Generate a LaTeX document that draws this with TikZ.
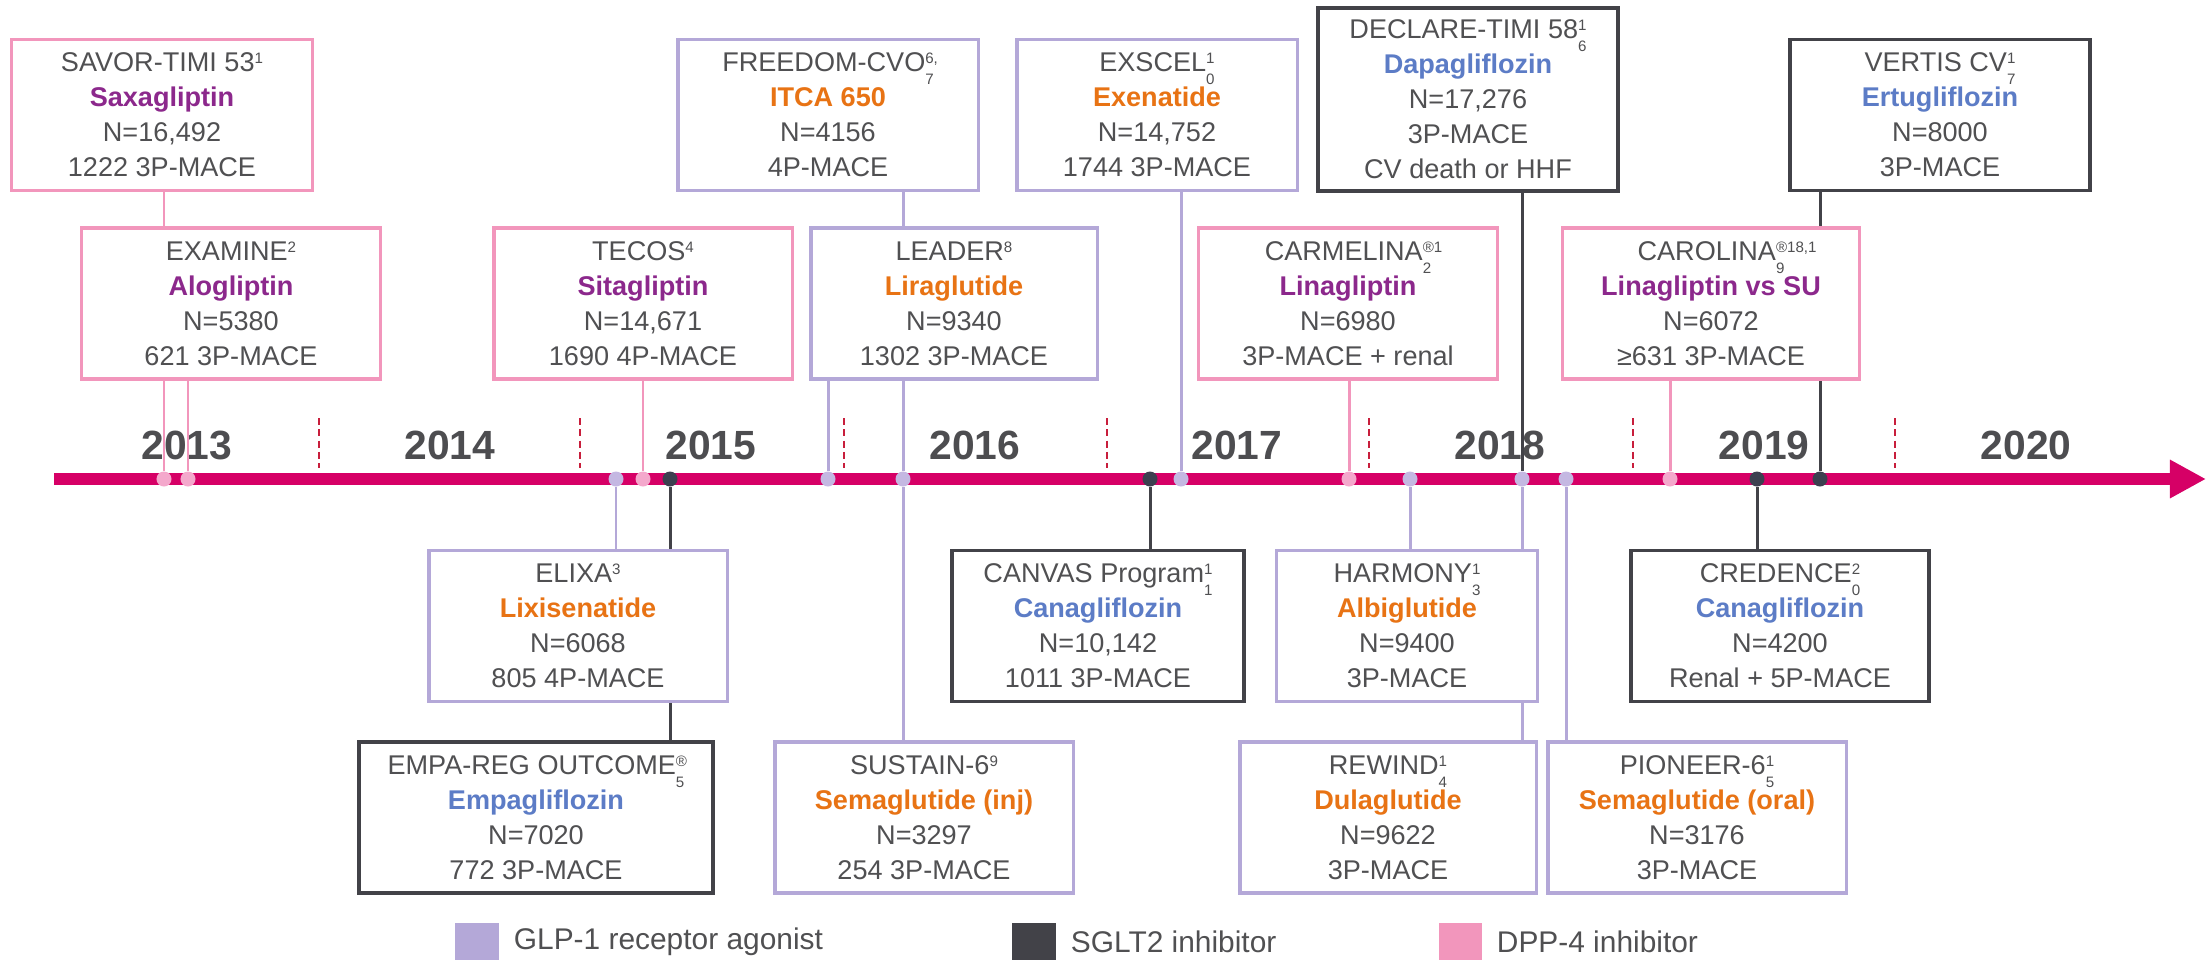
\documentclass[tikz,border=0pt]{standalone}
\usepackage{fontspec}
\setmainfont{Liberation Sans}
\usetikzlibrary{arrows.meta}
\usetikzlibrary{positioning}

% class colours: DPP-4, GLP-1, SGLT2
\definecolor{dppline}{RGB}{242,150,188}
\definecolor{glpline}{RGB}{180,168,216}
\definecolor{sgltline}{RGB}{66,66,72}
\definecolor{dppdot}{RGB}{244,168,204}
\definecolor{glpdot}{RGB}{196,184,226}
\definecolor{sgltdot}{RGB}{60,64,80}
\definecolor{dppdrug}{RGB}{140,40,140}
\definecolor{glpdrug}{RGB}{232,115,20}
\definecolor{sgltdrug}{RGB}{92,124,198}
\definecolor{txtgray}{RGB}{80,80,82}
\definecolor{yeargray}{RGB}{77,77,80}
\definecolor{timeline}{RGB}{214,0,102}
\definecolor{tickred}{RGB}{200,30,60}

\pgfdeclarelayer{back}
\pgfsetlayers{back,main}

\newcommand{\boxfont}{\fontsize{7.7}{9.96}\selectfont}
\newcommand{\reffont}{\fontsize{4.3}{5}\selectfont}
\newcommand{\rf}[1]{\raisebox{2.3pt}{\reffont #1}}
\newcommand{\rff}[2]{\rlap{\raisebox{2.3pt}{\reffont #1}}\raisebox{-3.7pt}{\reffont #2}}
\newcommand{\dppname}[1]{\textcolor{dppdrug}{\textbf{#1}}}
\newcommand{\glpname}[1]{\textcolor{glpdrug}{\textbf{#1}}}
\newcommand{\sgltname}[1]{\textcolor{sgltdrug}{\textbf{#1}}}

\tikzset{
  trial/.style={draw, fill=white, align=center, inner sep=0pt, minimum height=1.51cm, text=txtgray, font=\boxfont},
  dppbox/.style={trial, draw=dppline, line width=0.9pt},
  glpbox/.style={trial, draw=glpline, line width=0.9pt},
  sgltbox/.style={trial, draw=sgltline, line width=1.1pt},
  dot/.style={circle, inner sep=0pt, minimum size=0.15cm},
  dppcon/.style={draw=dppline, line width=0.85pt},
  glpcon/.style={draw=glpline, line width=0.85pt},
  sgltcon/.style={draw=sgltline, line width=0.85pt},
  year/.style={text=yeargray, font=\fontsize{11.6}{12}\selectfont\bfseries},
  halfyear/.style={draw=tickred, line width=0.6pt, dash pattern=on 2pt off 1.2pt},
  swatch/.style={inner sep=0pt, minimum width=0.43cm, minimum height=0.37cm},
  keytext/.style={inner sep=0pt, anchor=west, text=txtgray, font=\fontsize{8.5}{10}\selectfont}
}

\begin{document}
\begin{tikzpicture}[x=0.01cm, y=-0.01cm]
\useasboundingbox (0,0) rectangle (2211,960);

% trials above the time axis
\node[dppbox, minimum width=3cm] (savor) at (162,115) {SAVOR-TIMI 53\rf{1}\\\dppname{Saxagliptin}\\N=16,492\\1222 3P-MACE};
\node[glpbox, minimum width=3cm] (freedom) at (828,115) {FREEDOM-CVO\rff{6,}{7}\\\glpname{ITCA 650}\\N=4156\\4P-MACE};
\node[glpbox, minimum width=2.8cm] (exscel) at (1157,115) {EXSCEL\rff{1}{0}\\\glpname{Exenatide}\\N=14,752\\1744 3P-MACE};
\node[sgltbox, minimum width=3cm, minimum height=1.83cm] (declare) at (1468,99.5) {DECLARE-TIMI 58\rff{1}{6}\\\sgltname{Dapagliflozin}\\N=17,276\\3P-MACE\\CV death or HHF};
\node[sgltbox, minimum width=2.99cm] (vertis) at (1940,115) {VERTIS CV\rff{1}{7}\\\sgltname{Ertugliflozin}\\N=8000\\3P-MACE};

\node[dppbox, minimum width=2.99cm] (examine) at (231,303.5) {EXAMINE\rf{2}\\\dppname{Alogliptin}\\N=5380\\621 3P-MACE};
\node[dppbox, minimum width=2.98cm] (tecos) at (643,303.5) {TECOS\rf{4}\\\dppname{Sitagliptin}\\N=14,671\\1690 4P-MACE};
\node[glpbox, minimum width=2.86cm] (leader) at (954,303.5) {LEADER\rf{8}\\\glpname{Liraglutide}\\N=9340\\1302 3P-MACE};
\node[dppbox, minimum width=2.99cm] (carmelina) at (1348,303.5) {CARMELINA\rff{\textregistered1}{2}\\\dppname{Linagliptin}\\N=6980\\3P-MACE + renal};
\node[dppbox, minimum width=2.97cm] (carolina) at (1711,303.5) {CAROLINA\rff{\textregistered18,1}{9}\\\dppname{Linagliptin vs SU}\\N=6072\\≥631 3P-MACE};

% trials below the time axis
\node[glpbox, minimum width=2.98cm] (elixa) at (578,626) {ELIXA\rf{3}\\\glpname{Lixisenatide}\\N=6068\\805 4P-MACE};
\node[sgltbox, minimum width=2.91cm] (canvas) at (1098,626) {CANVAS Program\rff{1}{1}\\\sgltname{Canagliflozin}\\N=10,142\\1011 3P-MACE};
\node[glpbox, minimum width=2.61cm] (harmony) at (1407,626) {HARMONY\rff{1}{3}\\\glpname{Albiglutide}\\N=9400\\3P-MACE};
\node[sgltbox, minimum width=2.97cm] (credence) at (1780,626) {CREDENCE\rff{2}{0}\\\sgltname{Canagliflozin}\\N=4200\\Renal + 5P-MACE};

\node[sgltbox, minimum width=3.53cm] (empareg) at (536,817.5) {EMPA-REG OUTCOME\rff{\textregistered}{5}\\\sgltname{Empagliflozin}\\N=7020\\772 3P-MACE};
\node[glpbox, minimum width=2.98cm] (sustain) at (924,817.5) {SUSTAIN-6\rf{9}\\\glpname{Semaglutide (inj)}\\N=3297\\254 3P-MACE};
\node[glpbox, minimum width=2.96cm] (rewind) at (1388,817.5) {REWIND\rff{1}{4}\\\glpname{Dulaglutide}\\N=9622\\3P-MACE};
\node[glpbox, minimum width=2.98cm] (pioneer) at (1697,817.5) {PIONEER-6\rff{1}{5}\\\glpname{Semaglutide (oral)}\\N=3176\\3P-MACE};

% dates on the axis
\node[dot, fill=dppdot] (d-savor) at (164,479) {};
\node[dot, fill=dppdot] (d-examine) at (188,479) {};
\node[dot, fill=glpdot] (d-elixa) at (616,479) {};
\node[dot, fill=dppdot] (d-tecos) at (643,479) {};
\node[dot, fill=sgltdot] (d-empareg) at (670,479) {};
\node[dot, fill=glpdot] (d-leader) at (828,479) {};
\node[dot, fill=glpdot] (d-sustain) at (903,479) {};
\node[dot, fill=sgltdot] (d-canvas) at (1150,479) {};
\node[dot, fill=glpdot] (d-exscel) at (1181,479) {};
\node[dot, fill=dppdot] (d-carmelina) at (1349,479) {};
\node[dot, fill=glpdot] (d-harmony) at (1410,479) {};
\node[dot, fill=glpdot] (d-rewind) at (1522,479) {};
\node[dot, fill=glpdot] (d-pioneer) at (1566,479) {};
\node[dot, fill=dppdot] (d-carolina) at (1670,479) {};
\node[dot, fill=sgltdot] (d-credence) at (1757,479) {};
\node[dot, fill=sgltdot] (d-vertis) at (1820,479) {};

\begin{pgfonlayer}{back}
% years and half-year marks
\node[year] (y2013) at (187,445) {2013};
\node[year] (y2014) at (450,445) {2014};
\node[year] (y2015) at (711,445) {2015};
\node[year] (y2016) at (975,445) {2016};
\node[year] (y2017) at (1237,445) {2017};
\node[year] (y2018) at (1500,445) {2018};
\node[year] (y2019) at (1764,445) {2019};
\node[year] (y2020) at (2026,445) {2020};
\draw[halfyear] (319,418) -- (319,468) (580,418) -- (580,468) (844,418) -- (844,468) (1107,418) -- (1107,468)
  (1369,418) -- (1369,468) (1633,418) -- (1633,468) (1895,418) -- (1895,468);

% connectors
\draw[dppcon] (savor.south -| d-savor) -- (d-savor);
\draw[dppcon] (examine.south -| d-examine) -- (d-examine);
\draw[dppcon] (tecos.south -| d-tecos) -- (d-tecos);
\draw[glpcon] (freedom.south -| d-sustain) -- (d-sustain);
\draw[glpcon] (leader.south -| d-leader) -- (d-leader);
\draw[glpcon] (exscel.south -| d-exscel) -- (d-exscel);
\draw[dppcon] (carmelina.south -| d-carmelina) -- (d-carmelina);
\draw[sgltcon] (declare.south -| d-rewind) -- (d-rewind);
\draw[dppcon] (carolina.south -| d-carolina) -- (d-carolina);
\draw[sgltcon] (vertis.south -| d-vertis) -- (d-vertis);
\draw[glpcon] (d-elixa) -- (elixa.north -| d-elixa);
\draw[sgltcon] (d-empareg) -- (empareg.north -| d-empareg);
\draw[glpcon] (d-sustain) -- (sustain.north -| d-sustain);
\draw[sgltcon] (d-canvas) -- (canvas.north -| d-canvas);
\draw[glpcon] (d-harmony) -- (harmony.north -| d-harmony);
\draw[glpcon] (d-rewind) -- (rewind.north -| d-rewind);
\draw[glpcon] (d-pioneer) -- (pioneer.north -| d-pioneer);
\draw[sgltcon] (d-credence) -- (credence.north -| d-credence);

% time axis
\coordinate (t0) at (54,479);
\coordinate (t1) at (2206,479);
\draw[timeline, line width=0.12cm, -{Triangle[length=0.36cm, width=0.36cm]}] (t0) -- (t1);
\end{pgfonlayer}

% key
\node[swatch, fill=glpline] (kglp) at (477,941.5) {};
\node[keytext, right=0.14cm of kglp] (tglp) {GLP-1 receptor agonist};
\node[swatch, fill=sgltline] (ksglt) at (1034,941.5) {};
\node[keytext, right=0.14cm of ksglt] (tsglt) {SGLT2 inhibitor};
\node[swatch, fill=dppline] (kdpp) at (1460,941.5) {};
\node[keytext, right=0.14cm of kdpp] (tdpp) {DPP-4 inhibitor};
\end{tikzpicture}
\end{document}
